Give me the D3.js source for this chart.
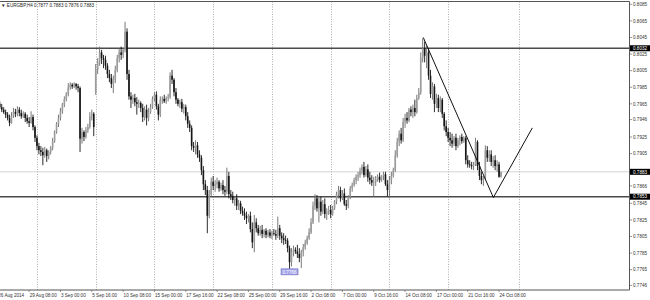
<!DOCTYPE html>
<html>
<head>
<meta charset="utf-8">
<script src="https://cdn.jsdelivr.net/npm/d3@7"></script>
<style>
  body { margin: 0; background: #fff; }
  text { font-family: "Liberation Sans", Arial, sans-serif; }
</style>
</head>
<body>
<div id="chart"></div>
<script>
// EURGBP H4 candles, 26 Aug 16:00 -> 24 Oct 12:00
const open = [
  0.7967,0.7965,0.7961,0.7958,0.7955,0.7952,0.7948,0.7942,0.7950,0.7955,
  0.7953,0.7958,0.7954,0.7950,0.7953,0.7948,0.7944,0.7942,0.7949,0.7937,
  0.7924,0.7914,0.7909,0.7907,0.7903,0.7909,0.7902,0.7907,0.7912,0.7920,
  0.7931,0.7941,0.7948,0.7956,0.7964,0.7971,0.7977,0.7985,0.7988,0.7986,
  0.7989,0.7986,0.7984,0.7923,0.7931,0.7925,0.7933,0.7937,0.7950,0.7953,
  0.7978,0.8006,0.8015,0.8027,0.8020,0.8018,0.8011,0.8001,0.7996,0.7989,
  0.7994,0.8006,0.8020,0.8027,0.8024,0.8030,0.8052,0.8001,0.7974,0.7970,
  0.7972,0.7967,0.7965,0.7966,0.7960,0.7949,0.7958,0.7948,0.7955,0.7961,
  0.7971,0.7976,0.7962,0.7952,0.7970,0.7971,0.7968,0.7972,0.7973,0.7999,
  0.7994,0.7979,0.7970,0.7965,0.7967,0.7959,0.7961,0.7950,0.7941,0.7936,
  0.7914,0.7912,0.7915,0.7904,0.7900,0.7885,0.7868,0.7861,0.7830,0.7856,
  0.7871,0.7866,0.7868,0.7871,0.7863,0.7867,0.7861,0.7859,0.7878,0.7856,
  0.7854,0.7849,0.7851,0.7842,0.7845,0.7836,0.7833,0.7830,0.7827,0.7830,
  0.7814,0.7798,0.7822,0.7815,0.7809,0.7813,0.7808,0.7812,0.7807,0.7810,
  0.7806,0.7809,0.7808,0.7806,0.7815,0.7806,0.7803,0.7801,0.7800,0.7791,
  0.7774,0.7786,0.7789,0.7787,0.7784,0.7779,0.7786,0.7792,0.7797,0.7803,
  0.7810,0.7822,0.7842,0.7851,0.7839,0.7847,0.7835,0.7844,0.7832,0.7835,
  0.7837,0.7832,0.7839,0.7847,0.7856,0.7861,0.7851,0.7857,0.7844,0.7842,
  0.7853,0.7863,0.7867,0.7873,0.7877,0.7879,0.7884,0.7889,0.7879,0.7886,
  0.7876,0.7873,0.7870,0.7871,0.7874,0.7877,0.7873,0.7878,0.7880,0.7868,
  0.7861,0.7873,0.7878,0.7885,0.7903,0.7919,0.7929,0.7921,0.7943,0.7948,
  0.7945,0.7958,0.7955,0.7960,0.7955,0.7972,0.7979,0.8020,0.8032,0.8023,
  0.8027,0.7999,0.7977,0.7986,0.7965,0.7972,0.7960,0.7970,0.7953,0.7938,
  0.7931,0.7924,0.7921,0.7917,0.7924,0.7914,0.7921,0.7925,0.7920,0.7924,
  0.7897,0.7892,0.7891,0.7890,0.7892,0.7919,0.7890,0.7878,0.7873,0.7876,
  0.7909,0.7900,0.7904,0.7895,0.7897,0.7890,0.7892,0.7877
]
const high = [
  0.7970,0.7968,0.7965,0.7961,0.7958,0.7955,0.7952,0.7955,0.7960,0.7959,
  0.7962,0.7961,0.7958,0.7956,0.7955,0.7952,0.7949,0.7956,0.7952,0.7939,
  0.7927,0.7918,0.7914,0.7912,0.7913,0.7911,0.7909,0.7914,0.7924,0.7933,
  0.7943,0.7952,0.7960,0.7966,0.7974,0.7979,0.7990,0.7991,0.7990,0.7991,
  0.7990,0.7989,0.7986,0.7936,0.7933,0.7937,0.7941,0.7955,0.7958,0.7955,
  0.8013,0.8020,0.8034,0.8030,0.8024,0.8023,0.8014,0.8006,0.8001,0.7999,
  0.8011,0.8024,0.8032,0.8034,0.8032,0.8064,0.8056,0.8006,0.7979,0.7976,
  0.7977,0.7973,0.7970,0.7968,0.7965,0.7962,0.7964,0.7960,0.7965,0.7974,
  0.7979,0.7980,0.7965,0.7974,0.7974,0.7976,0.7974,0.7977,0.8003,0.8006,
  0.7996,0.7984,0.7972,0.7970,0.7971,0.7965,0.7964,0.7955,0.7945,0.7939,
  0.7919,0.7921,0.7919,0.7909,0.7903,0.7890,0.7873,0.7866,0.7861,0.7876,
  0.7878,0.7873,0.7876,0.7873,0.7870,0.7873,0.7866,0.7888,0.7883,0.7861,
  0.7859,0.7854,0.7856,0.7849,0.7848,0.7841,0.7839,0.7835,0.7832,0.7835,
  0.7822,0.7831,0.7827,0.7819,0.7818,0.7819,0.7814,0.7815,0.7813,0.7814,
  0.7812,0.7814,0.7813,0.7829,0.7819,0.7810,0.7809,0.7806,0.7803,0.7794,
  0.7791,0.7794,0.7792,0.7795,0.7791,0.7789,0.7796,0.7801,0.7806,0.7815,
  0.7827,0.7847,0.7856,0.7855,0.7854,0.7853,0.7849,0.7851,0.7839,0.7842,
  0.7843,0.7842,0.7849,0.7859,0.7866,0.7865,0.7861,0.7863,0.7849,0.7855,
  0.7866,0.7870,0.7876,0.7880,0.7883,0.7888,0.7892,0.7895,0.7890,0.7892,
  0.7883,0.7879,0.7877,0.7878,0.7880,0.7882,0.7879,0.7883,0.7883,0.7873,
  0.7878,0.7883,0.7888,0.7909,0.7924,0.7933,0.7936,0.7948,0.7953,0.7955,
  0.7960,0.7962,0.7964,0.7970,0.7976,0.7984,0.8027,0.8044,0.8040,0.8035,
  0.8032,0.8006,0.7991,0.7989,0.7977,0.7976,0.7974,0.7972,0.7955,0.7945,
  0.7936,0.7931,0.7929,0.7926,0.7929,0.7924,0.7927,0.7929,0.7926,0.7926,
  0.7903,0.7897,0.7895,0.7895,0.7924,0.7921,0.7895,0.7883,0.7878,0.7915,
  0.7914,0.7909,0.7909,0.7902,0.7903,0.7897,0.7895,0.7883
]
const low = [
  0.7962,0.7959,0.7955,0.7953,0.7948,0.7945,0.7938,0.7941,0.7948,0.7949,
  0.7950,0.7950,0.7947,0.7948,0.7943,0.7941,0.7937,0.7941,0.7933,0.7919,
  0.7909,0.7904,0.7902,0.7891,0.7900,0.7895,0.7898,0.7904,0.7909,0.7918,
  0.7929,0.7937,0.7945,0.7953,0.7961,0.7968,0.7974,0.7982,0.7983,0.7984,
  0.7982,0.7979,0.7907,0.7917,0.7920,0.7923,0.7930,0.7935,0.7945,0.7926,
  0.7976,0.8001,0.8011,0.8013,0.8008,0.8006,0.7996,0.7991,0.7984,0.7978,
  0.7990,0.8003,0.8015,0.8018,0.8020,0.8027,0.7994,0.7970,0.7960,0.7965,
  0.7962,0.7952,0.7960,0.7955,0.7943,0.7945,0.7939,0.7944,0.7953,0.7959,
  0.7968,0.7958,0.7945,0.7949,0.7965,0.7966,0.7965,0.7968,0.7971,0.7989,
  0.7974,0.7965,0.7962,0.7960,0.7955,0.7953,0.7945,0.7936,0.7931,0.7909,
  0.7907,0.7904,0.7900,0.7895,0.7879,0.7861,0.7855,0.7809,0.7827,0.7854,
  0.7861,0.7859,0.7863,0.7859,0.7860,0.7856,0.7854,0.7856,0.7851,0.7849,
  0.7845,0.7842,0.7837,0.7837,0.7832,0.7830,0.7825,0.7820,0.7822,0.7810,
  0.7791,0.7786,0.7810,0.7806,0.7806,0.7803,0.7804,0.7803,0.7804,0.7803,
  0.7802,0.7806,0.7801,0.7803,0.7801,0.7797,0.7795,0.7796,0.7786,0.7766,
  0.7769,0.7781,0.7784,0.7779,0.7774,0.7767,0.7781,0.7789,0.7795,0.7801,
  0.7808,0.7820,0.7837,0.7835,0.7822,0.7830,0.7832,0.7827,0.7825,0.7831,
  0.7827,0.7830,0.7837,0.7844,0.7851,0.7847,0.7849,0.7842,0.7837,0.7839,
  0.7850,0.7859,0.7865,0.7868,0.7872,0.7876,0.7880,0.7876,0.7877,0.7871,
  0.7868,0.7866,0.7853,0.7866,0.7871,0.7870,0.7871,0.7873,0.7866,0.7853,
  0.7851,0.7868,0.7876,0.7883,0.7900,0.7914,0.7917,0.7919,0.7936,0.7941,
  0.7943,0.7950,0.7948,0.7950,0.7953,0.7970,0.7976,0.8015,0.8015,0.8008,
  0.7994,0.7972,0.7970,0.7955,0.7960,0.7955,0.7955,0.7948,0.7933,0.7926,
  0.7919,0.7914,0.7912,0.7914,0.7909,0.7912,0.7915,0.7917,0.7918,0.7892,
  0.7888,0.7888,0.7886,0.7885,0.7890,0.7885,0.7873,0.7868,0.7866,0.7873,
  0.7895,0.7895,0.7890,0.7888,0.7885,0.7883,0.7876,0.7876
]
const close = [
  0.7965,0.7961,0.7958,0.7955,0.7952,0.7948,0.7942,0.7950,0.7955,0.7953,
  0.7958,0.7954,0.7950,0.7953,0.7948,0.7944,0.7942,0.7949,0.7937,0.7924,
  0.7914,0.7909,0.7907,0.7903,0.7909,0.7902,0.7907,0.7912,0.7920,0.7931,
  0.7941,0.7948,0.7956,0.7964,0.7971,0.7977,0.7985,0.7988,0.7986,0.7989,
  0.7986,0.7984,0.7923,0.7931,0.7925,0.7933,0.7937,0.7950,0.7953,0.7937,
  0.8006,0.8015,0.8027,0.8020,0.8018,0.8011,0.8001,0.7996,0.7989,0.7994,
  0.8006,0.8020,0.8027,0.8024,0.8030,0.8052,0.8001,0.7974,0.7970,0.7972,
  0.7967,0.7965,0.7966,0.7960,0.7949,0.7958,0.7948,0.7955,0.7961,0.7971,
  0.7976,0.7962,0.7952,0.7970,0.7971,0.7968,0.7972,0.7973,0.7999,0.7994,
  0.7979,0.7970,0.7965,0.7967,0.7959,0.7961,0.7950,0.7941,0.7936,0.7914,
  0.7912,0.7915,0.7904,0.7900,0.7885,0.7868,0.7861,0.7830,0.7856,0.7871,
  0.7866,0.7868,0.7871,0.7863,0.7867,0.7861,0.7859,0.7878,0.7856,0.7854,
  0.7849,0.7851,0.7842,0.7845,0.7836,0.7833,0.7830,0.7827,0.7830,0.7814,
  0.7798,0.7822,0.7815,0.7809,0.7813,0.7808,0.7812,0.7807,0.7810,0.7806,
  0.7809,0.7808,0.7806,0.7815,0.7806,0.7803,0.7801,0.7800,0.7791,0.7774,
  0.7786,0.7789,0.7787,0.7784,0.7779,0.7786,0.7792,0.7797,0.7803,0.7810,
  0.7822,0.7842,0.7851,0.7839,0.7847,0.7835,0.7844,0.7832,0.7835,0.7837,
  0.7832,0.7839,0.7847,0.7856,0.7861,0.7851,0.7857,0.7844,0.7842,0.7853,
  0.7863,0.7867,0.7873,0.7877,0.7879,0.7884,0.7889,0.7879,0.7886,0.7876,
  0.7873,0.7870,0.7871,0.7874,0.7877,0.7873,0.7878,0.7880,0.7868,0.7861,
  0.7873,0.7878,0.7885,0.7903,0.7919,0.7929,0.7921,0.7943,0.7948,0.7945,
  0.7958,0.7955,0.7960,0.7955,0.7972,0.7979,0.8020,0.8032,0.8023,0.8027,
  0.7999,0.7977,0.7986,0.7965,0.7972,0.7960,0.7970,0.7953,0.7938,0.7931,
  0.7924,0.7921,0.7917,0.7924,0.7914,0.7921,0.7925,0.7920,0.7924,0.7897,
  0.7892,0.7891,0.7890,0.7892,0.7919,0.7890,0.7878,0.7873,0.7876,0.7909,
  0.7900,0.7904,0.7895,0.7897,0.7890,0.7892,0.7877,0.7883
]

// time axis labels, one every 16 bars
const timeTickBars = [0,16,32,48,64,80,96,112,128,144,160,176,192,208,224,240,256]
const timeTickLabels = ["26 Aug 2014","29 Aug 08:00","3 Sep 00:00","5 Sep 16:00","10 Sep 08:00",
  "15 Sep 00:00","17 Sep 16:00","22 Sep 08:00","25 Sep 00:00","29 Sep 16:00","2 Oct 08:00",
  "7 Oct 00:00","9 Oct 16:00","14 Oct 08:00","17 Oct 00:00","21 Oct 16:00","24 Oct 08:00"]
// weekly grid (Monday 00:00 bars, last one past the data)
const gridBars = [20,50,80,110,140,170,200,230,266]

const priceTicks = [0.8085,0.8065,0.8045,0.8025,0.8005,0.7985,0.7965,0.7946,0.7925,0.7905,
  0.7866,0.7845,0.7825,0.7805,0.7785,0.7765,0.7746]

const levels = [0.8032, 0.7853]
const bid = 0.7883
const trendBars = [217.3, 253.1, 273]
const trendPrices = [0.8045, 0.7852, 0.7936]
const lowBar = 149
const lowPrice = 0.7766

const width = 650
const height = 300
const plotRight = 629.5
const plotBottom = 290

const svg = d3.select("#chart").append("svg")
    .attr("width", width)
    .attr("height", height)

const x = d3.scaleLinear().domain([0, 257]).range([-2.2, 501])
const y = d3.scaleLinear().domain([0.77405, 0.80902]).range([plotBottom, 0])

svg.append("clipPath").attr("id", "plot")
    .append("rect").attr("x", 0).attr("y", 1.5).attr("width", plotRight).attr("height", plotBottom - 1.5)

const plot = svg.append("g").attr("clip-path", "url(#plot)")

// weekly dotted grid
plot.selectAll(".grid")
    .data(gridBars)
    .enter()
    .append("line")
    .attr("x1", d => Math.round(x(d)) + 0.5)
    .attr("x2", d => Math.round(x(d)) + 0.5)
    .attr("y1", 1.5)
    .attr("y2", plotBottom)
    .attr("stroke", "#9a9a9a")
    .attr("stroke-width", 0.8)
    .attr("stroke-dasharray", "1,1.5")

// bid line
plot.append("line")
    .attr("x1", 0).attr("x2", plotRight)
    .attr("y1", y(bid)).attr("y2", y(bid))
    .attr("stroke", "#c8c8c8").attr("stroke-width", 0.8)

// support / resistance lines
plot.selectAll(".level")
    .data(levels)
    .enter()
    .append("line")
    .attr("x1", 0).attr("x2", plotRight)
    .attr("y1", d => y(d)).attr("y2", d => y(d))
    .attr("stroke", "#4a4a4a").attr("stroke-width", 1.4)

const bars = d3.range(close.length)
const upCol = "#9c9c9c", downCol = "#151515"

plot.selectAll(".wick")
    .data(bars)
    .enter()
    .append("line")
    .attr("x1", i => x(i)).attr("x2", i => x(i))
    .attr("y1", i => y(high[i])).attr("y2", i => y(low[i]))
    .attr("stroke", i => close[i] >= open[i] ? "#6a6a6a" : downCol)
    .attr("stroke-width", 0.9)

plot.selectAll(".body")
    .data(bars)
    .enter()
    .append("rect")
    .attr("x", i => x(i) - 0.8)
    .attr("width", 1.6)
    .attr("y", i => y(Math.max(open[i], close[i])))
    .attr("height", i => Math.max(0.7, Math.abs(y(open[i]) - y(close[i]))))
    .attr("fill", i => close[i] >= open[i] ? upCol : downCol)

// trend lines
plot.append("path")
    .datum(d3.range(trendBars.length))
    .attr("d", d3.line().x(i => x(trendBars[i])).y(i => y(trendPrices[i])))
    .attr("fill", "none")
    .attr("stroke", "#111")
    .attr("stroke-width", 1)

// low marker
const lowG = svg.append("g")
lowG.append("rect")
    .attr("x", x(lowBar) - 8.5).attr("y", y(lowPrice))
    .attr("width", 17).attr("height", 6)
    .attr("fill", "#a3a3e6").attr("stroke", "#6b6bc4").attr("stroke-width", 0.6)
lowG.append("text")
    .attr("x", x(lowBar)).attr("y", y(lowPrice) + 4.7)
    .attr("text-anchor", "middle")
    .attr("font-size", 4.6)
    .attr("fill", "#fff")
    .text(d3.format(".4f")(lowPrice))

// frame
svg.append("path")
    .attr("d", `M0,1.5H${plotRight}V${plotBottom}H0`)
    .attr("fill", "none").attr("stroke", "#555").attr("stroke-width", 1)

// price axis
const yAxis = svg.append("g")
yAxis.selectAll(".ptick")
    .data(priceTicks)
    .enter()
    .append("line")
    .attr("x1", plotRight).attr("x2", plotRight + 2.5)
    .attr("y1", d => y(d)).attr("y2", d => y(d))
    .attr("stroke", "#555").attr("stroke-width", 0.6)
yAxis.selectAll(".plabel")
    .data(priceTicks)
    .enter()
    .append("text")
    .attr("x", 633)
    .attr("y", d => y(d) + 1.7)
    .attr("font-size", 4.6)
    .attr("fill", "#333")
    .text(d => d3.format(".4f")(d))

// highlighted prices on the axis
const boxed = levels.concat([bid])
yAxis.selectAll(".pbox")
    .data(boxed)
    .enter()
    .append("rect")
    .attr("x", 630).attr("y", d => y(d) - 3)
    .attr("width", 20).attr("height", 6)
    .attr("fill", "#000")
yAxis.selectAll(".pboxtext")
    .data(boxed)
    .enter()
    .append("text")
    .attr("x", 633)
    .attr("y", d => y(d) + 1.7)
    .attr("font-size", 4.6)
    .attr("fill", "#fff")
    .text(d => d3.format(".4f")(d))

// time axis
const xAxis = svg.append("g")
xAxis.selectAll(".ttick")
    .data(timeTickBars)
    .enter()
    .append("line")
    .attr("x1", d => x(d)).attr("x2", d => x(d))
    .attr("y1", plotBottom).attr("y2", plotBottom + 2)
    .attr("stroke", "#555").attr("stroke-width", 0.6)
xAxis.selectAll(".tlabel")
    .data(timeTickBars)
    .enter()
    .append("text")
    .attr("x", d => x(d) + 0.5)
    .attr("y", 296.8)
    .attr("font-size", 4.6)
    .attr("fill", "#333")
    .text((d, i) => timeTickLabels[i])

// header
svg.append("text")
    .attr("x", 1)
    .attr("y", 6.5)
    .attr("font-size", 4.6)
    .attr("fill", "#222")
    .text("\u25BC EURGBP,H4  " + [open[257], high[257], low[257], close[257]].map(d3.format(".4f")).join(" "))
</script>
</body>
</html>
